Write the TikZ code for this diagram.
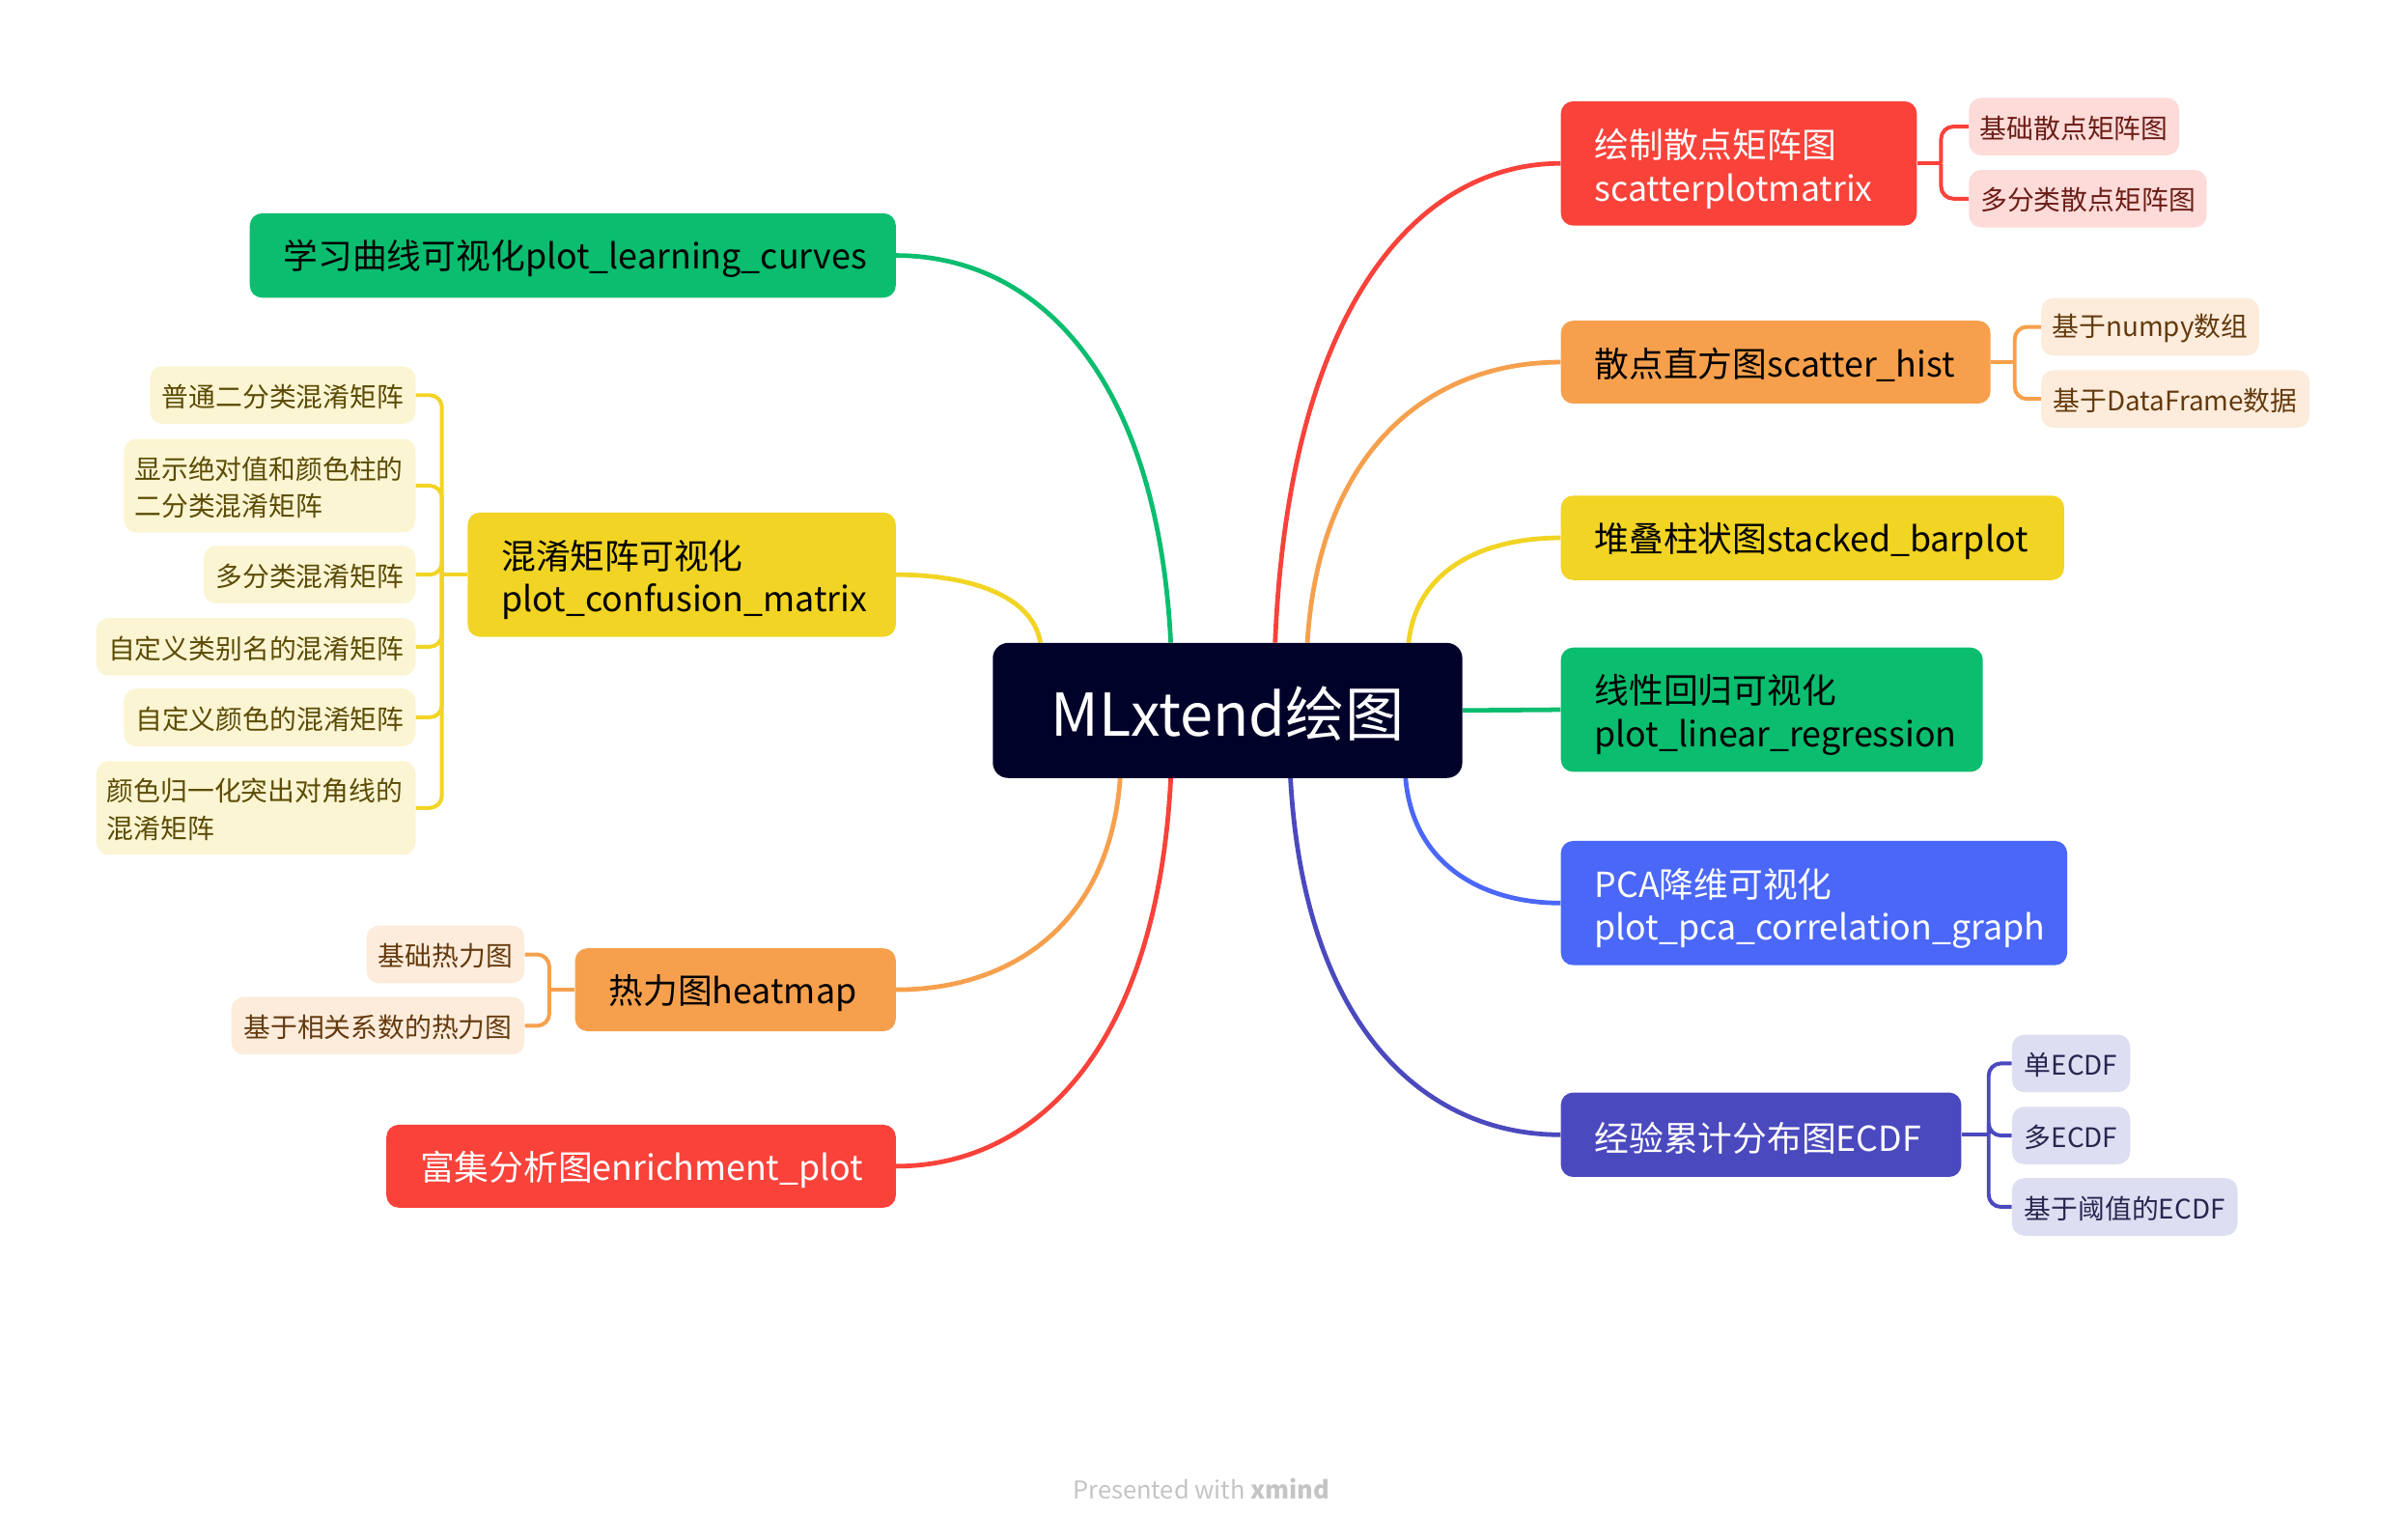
\documentclass[tikz,border=0pt]{standalone}
\usepackage{fontspec}
\setmainfont{Noto Sans CJK SC}
\usetikzlibrary{backgrounds}
\newcommand\lwr[2]{\raisebox{-#1}[\height][\depth]{#2}}
\definecolor{xred}{HTML}{F9423A}
\definecolor{xorange}{HTML}{F6A04D}
\definecolor{xyellow}{HTML}{F2D424}
\definecolor{xgreen}{HTML}{0ABD6F}
\definecolor{xblue}{HTML}{4A67F7}
\definecolor{xpurple}{HTML}{4B49BE}
\definecolor{xcenter}{HTML}{000229}
\definecolor{lred}{HTML}{FDDBD8}
\definecolor{tred}{HTML}{6B1D17}
\definecolor{lorange}{HTML}{FDECDB}
\definecolor{torange}{HTML}{643A0E}
\definecolor{lyellow}{HTML}{FCF5D3}
\definecolor{tyellow}{HTML}{5B4B05}
\definecolor{lpurple}{HTML}{DEDEF3}
\definecolor{tpurple}{HTML}{26264F}
\definecolor{footgray}{HTML}{C4C4C4}
\begin{document}
\begin{tikzpicture}[x=1pt,y=-1pt,
  mainbox/.style={rounded corners=8pt, inner xsep=22pt, inner ysep=0pt,
    font=\fontsize{22.5}{28}\selectfont, align=left},
  subbox/.style={rounded corners=8pt, inner xsep=7pt, inner ysep=0pt,
    font=\fontsize{17.5}{24}\selectfont, minimum height=37.5pt},
  conn/.style={line width=3pt},
  brk/.style={line width=2.5pt, rounded corners=8pt}]
\useasboundingbox (0,0) rectangle (1568,1003);

% center
\node[rounded corners=10pt, fill=xcenter, text=white, minimum width=306pt,
  minimum height=88pt, inner sep=0pt, font=\fontsize{38.5}{44}\selectfont] (C) at (800,463) {\lwr{2pt}{MLxtend绘图}};

% right main nodes
\node[mainbox, fill=xred, text=white, text width=188pt, minimum height=81pt, anchor=west] (R1) at (1017,106.5) {\lwr{3.5pt}{绘制散点矩阵图}\\\lwr{3.5pt}{scatterplotmatrix}};
\node[mainbox, fill=xorange, text=black, text width=236pt, minimum height=54pt, anchor=west] (R2) at (1017,236) {\lwr{2pt}{散点直方图scatter\_hist}};
\node[mainbox, fill=xyellow, text=black, text width=284pt, minimum height=55pt, anchor=west] (R3) at (1017,350.5) {\lwr{2pt}{堆叠柱状图stacked\_barplot}};
\node[mainbox, fill=xgreen, text=black, text width=231pt, minimum height=81pt, anchor=west] (R4) at (1017,462.5) {\lwr{3.5pt}{线性回归可视化}\\\lwr{3.5pt}{plot\_linear\_regression}};
\node[mainbox, fill=xblue, text=white, text width=286pt, minimum height=81pt, anchor=west] (R5) at (1017,588.5) {\lwr{3.5pt}{PCA降维可视化}\\\lwr{3.5pt}{plot\_pca\_correlation\_graph}};
\node[mainbox, fill=xpurple, text=white, text width=217pt, minimum height=55pt, anchor=west] (R6) at (1017,739.5) {\lwr{2pt}{经验累计分布图ECDF}};

% left main nodes
\node[mainbox, fill=xgreen, text=black, text width=377pt, minimum height=55pt, anchor=east] (L1) at (584,166.5) {\lwr{2pt}{学习曲线可视化plot\_learning\_curves}};
\node[mainbox, fill=xyellow, text=black, text width=235pt, minimum height=81pt, anchor=east] (L2) at (584,374.5) {\lwr{3.5pt}{混淆矩阵可视化}\\\lwr{3.5pt}{plot\_confusion\_matrix}};
\node[mainbox, fill=xorange, text=black, text width=165pt, minimum height=54pt, anchor=east] (L3) at (584,645) {\lwr{2pt}{热力图heatmap}};
\node[mainbox, fill=xred, text=white, text width=288pt, minimum height=54pt, anchor=east] (L4) at (584,760) {\lwr{2pt}{富集分析图enrichment\_plot}};

% right sub nodes
\node[subbox, fill=lred, text=tred, minimum width=137pt, anchor=west] (R1a) at (1283,82.5) {\lwr{1pt}{基础散点矩阵图}};
\node[subbox, fill=lred, text=tred, minimum width=155pt, anchor=west] (R1b) at (1283,129.5) {\lwr{1pt}{多分类散点矩阵图}};
\node[subbox, fill=lorange, text=torange, minimum width=142pt, anchor=west] (R2a) at (1330,213) {\lwr{1pt}{基于numpy数组}};
\node[subbox, fill=lorange, text=torange, minimum width=175pt, anchor=west] (R2b) at (1330,260) {\lwr{1pt}{基于DataFrame数据}};
\node[subbox, fill=lpurple, text=tpurple, minimum width=77pt, anchor=west] (R6a) at (1311,693) {\lwr{1pt}{单ECDF}};
\node[subbox, fill=lpurple, text=tpurple, minimum width=77pt, anchor=west] (R6b) at (1311,740) {\lwr{1pt}{多ECDF}};
\node[subbox, fill=lpurple, text=tpurple, minimum width=147pt, anchor=west] (R6c) at (1311,786.5) {\lwr{1pt}{基于阈值的ECDF}};

% left sub nodes
\node[subbox, fill=lyellow, text=tyellow, minimum width=173pt, anchor=east] (L2a) at (271,257.5) {\lwr{1pt}{普通二分类混淆矩阵}};
\node[subbox, fill=lyellow, text=tyellow, text width=176pt, align=left, minimum height=61pt, anchor=east] (L2b) at (271,316.5) {\lwr{1pt}{显示绝对值和颜色柱的}\\\lwr{1pt}{二分类混淆矩阵}};
\node[subbox, fill=lyellow, text=tyellow, minimum width=138pt, anchor=east] (L2c) at (271,374.5) {\lwr{1pt}{多分类混淆矩阵}};
\node[subbox, fill=lyellow, text=tyellow, minimum width=208pt, anchor=east] (L2d) at (271,421.5) {\lwr{1pt}{自定义类别名的混淆矩阵}};
\node[subbox, fill=lyellow, text=tyellow, minimum width=190pt, anchor=east] (L2e) at (271,467.5) {\lwr{1pt}{自定义颜色的混淆矩阵}};
\node[subbox, fill=lyellow, text=tyellow, text width=194pt, align=left, minimum height=61pt, anchor=east] (L2f) at (271,526.5) {\lwr{1pt}{颜色归一化突出对角线的}\\\lwr{1pt}{混淆矩阵}};
\node[subbox, fill=lorange, text=torange, minimum width=103pt, anchor=east] (L3a) at (342,622) {\lwr{1pt}{基础热力图}};
\node[subbox, fill=lorange, text=torange, minimum width=191pt, anchor=east] (L3b) at (342,668.5) {\lwr{1pt}{基于相关系数的热力图}};

% footer
\node[font=\fontsize{16}{18}\selectfont, text=footgray] (ft) at (783,970) {Presented with \textbf{xmind}};

% bracket x positions
\coordinate (bR1) at (1265,0);
\coordinate (bR2) at (1313,0);
\coordinate (bR6) at (1296,0);
\coordinate (bL2) at (288,0);
\coordinate (bL3) at (358,0);

% connector start points on the central topic
\coordinate (sR1) at ([xshift=31pt]C.north);
\coordinate (sR2) at ([xshift=52pt]C.north);
\coordinate (sR3) at ([xshift=118pt]C.north);
\coordinate (sR5) at ([xshift=116pt]C.south);
\coordinate (sR6) at ([xshift=41pt]C.south);
\coordinate (sL1) at ([xshift=-37pt]C.north);
\coordinate (sL2) at ([xshift=-122pt]C.north);
\coordinate (sL3) at ([xshift=-70pt]C.south);
\coordinate (sL4) at ([xshift=-37pt]C.south);

\begin{scope}[on background layer]
\fill[white] (0,0) rectangle (1568,1003);
\draw[conn, xred] (sR1) .. controls +(9,-219) and +(-93,0) .. (R1.west);
\draw[conn, xorange] (sR2) .. controls +(8,-128) and +(-83,0) .. (R2.west);
\draw[conn, xyellow] (sR3) .. controls +(5,-48) and +(-50,0) .. (R3.west);
\draw[conn, xgreen] (C.east) -- (R4.west);
\draw[conn, xblue] (sR5) .. controls +(5,57) and +(-50,0) .. (R5.west);
\draw[conn, xpurple] (sR6) .. controls +(9,163) and +(-88,0) .. (R6.west);
\draw[conn, xgreen] (sL1) .. controls +(-9,-177) and +(90,0) .. (L1.east);
\draw[conn, xyellow] (sL2) .. controls +(-5,-31) and +(47,0) .. (L2.east);
\draw[conn, xorange] (sL3) .. controls +(-7,97) and +(73,0) .. (L3.east);
\draw[conn, xred] (sL4) .. controls +(-9,177) and +(90,0) .. (L4.east);

% brackets
\draw[brk, xred] (R1.east) -- (R1.east -| bR1);
\draw[brk, xred] (R1.east -| bR1) |- (R1a.west);
\draw[brk, xred] (R1.east -| bR1) |- (R1b.west);
\draw[brk, xorange] (R2.east) -- (R2.east -| bR2);
\draw[brk, xorange] (R2.east -| bR2) |- (R2a.west);
\draw[brk, xorange] (R2.east -| bR2) |- (R2b.west);
\draw[brk, xpurple] (R6.east) -- (R6.east -| bR6);
\draw[brk, xpurple] (R6.east -| bR6) |- (R6a.west);
\draw[brk, xpurple] (R6.east -| bR6) |- (R6b.west);
\draw[brk, xpurple] (R6.east -| bR6) |- (R6c.west);
\draw[brk, xyellow] (L2.west) -- (L2.west -| bL2);
\draw[brk, xyellow] (L2.west -| bL2) |- (L2a.east);
\draw[brk, xyellow] (L2.west -| bL2) |- (L2b.east);
\draw[brk, xyellow] (L2.west -| bL2) |- (L2c.east);
\draw[brk, xyellow] (L2.west -| bL2) |- (L2d.east);
\draw[brk, xyellow] (L2.west -| bL2) |- (L2e.east);
\draw[brk, xyellow] (L2.west -| bL2) |- (L2f.east);
\draw[brk, xorange] (L3.west) -- (L3.west -| bL3);
\draw[brk, xorange] (L3.west -| bL3) |- (L3a.east);
\draw[brk, xorange] (L3.west -| bL3) |- (L3b.east);
\end{scope}
\end{tikzpicture}
\end{document}
